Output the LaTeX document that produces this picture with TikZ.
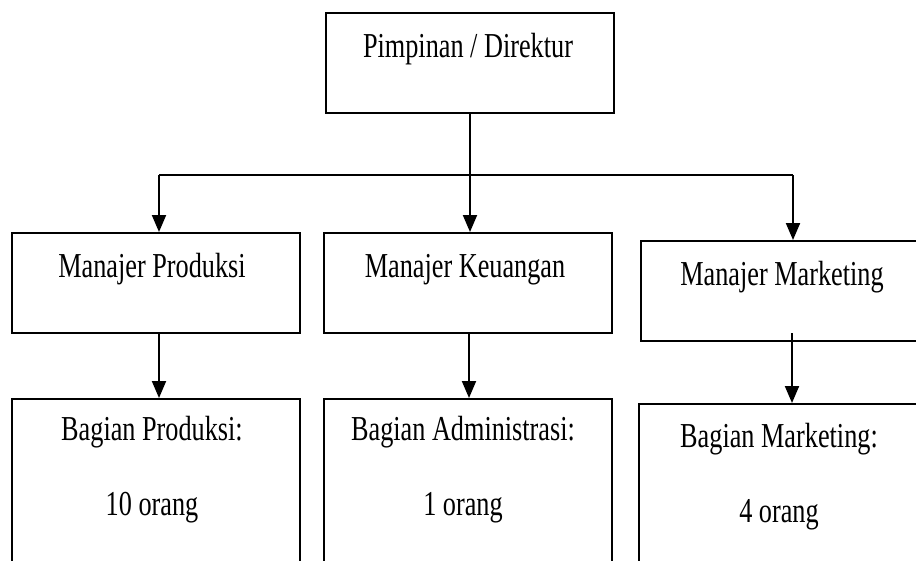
\documentclass[tikz,border=0pt]{standalone}
\usepackage{fontspec}
\setmainfont{Liberation Serif}[FakeStretch=0.75]
\usetikzlibrary{arrows.meta}
\begin{document}
\begin{tikzpicture}[x=1pt,y=-1pt,
  box/.style={draw, line width=2pt, minimum width=288pt, minimum height=100pt, inner sep=0pt},
  tallbox/.style={draw, line width=2pt, minimum width=288pt, minimum height=200pt, inner sep=0pt},
  lbl/.style={anchor=base, inner sep=0pt, font=\fontsize{35}{42}\selectfont},
  conn/.style={line width=2pt},
  arr/.style={line width=2pt, -{Triangle[width=14pt,length=17pt]}}]
\useasboundingbox (0,0) rectangle (916,560);
\clip (0,0) rectangle (916,560);
% boxes
\node[box] (top) at (470,63) {};
\node[box] (b1) at (155.5,283) {};
\node[box] (b2) at (468,283) {};
\node[box, minimum width=300pt] (b3) at (791,291) {};
\node[tallbox] (b4) at (155.5,499) {};
\node[tallbox] (b5) at (468,499) {};
\node[tallbox, minimum width=300pt] (b6) at (789,504) {};
% texts
\node[lbl] (ttop) at (468,57) {Pimpinan / Direktur};
\node[lbl] (t1) at (152,277) {Manajer Produksi};
\node[lbl] (t2) at (465,277) {Manajer Keuangan};
\node[lbl] (t3) at (782,285) {Manajer Marketing};
\node[lbl] (t4a) at (152,440) {Bagian Produksi:};
\node[lbl] (t4b) at (152,515) {10 orang};
\node[lbl] (t5a) at (463,440) {Bagian Administrasi:};
\node[lbl] (t5b) at (463,515) {1 orang};
\node[lbl] (t6a) at (779,447) {Bagian Marketing:};
\node[lbl] (t6b) at (779,522) {4 orang};
% connectors
\coordinate (j) at (470,175);
\coordinate (jl) at (159,175);
\coordinate (jr) at (793,175);
\draw[conn] (top.south -| j) -- (j);
\draw[conn] (jl) -- (jr);
\draw[arr] (jl) -- (jl |- b1.north);
\draw[arr] (j) -- (j |- b2.north);
\draw[arr] (jr) -- (jr |- b3.north);
\coordinate (l1) at (159,333);
\coordinate (l2) at (469,333);
\coordinate (l3) at (792,333);
\draw[arr] (l1 |- b1.south) -- (l1 |- b4.north);
\draw[arr] (l2 |- b2.south) -- (l2 |- b5.north);
\draw[arr] (l3) -- (l3 |- b6.north);
\end{tikzpicture}
\end{document}
